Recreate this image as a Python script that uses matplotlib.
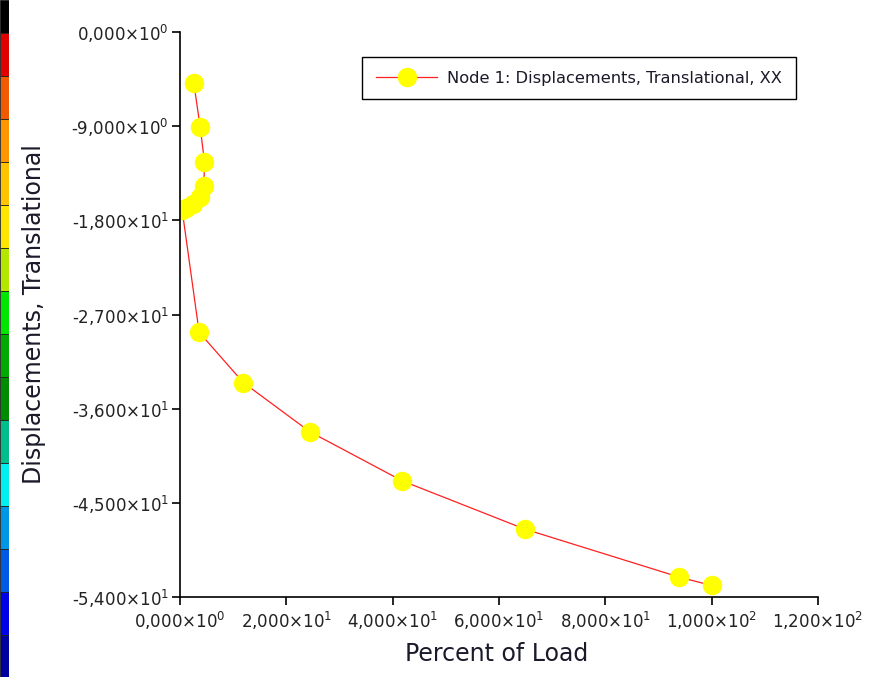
import numpy as np
import matplotlib
matplotlib.use("Agg")
import matplotlib.pyplot as plt
from matplotlib.ticker import FuncFormatter

# 曲线数据 (Percent of Load, Displacement XX)
percent_load = [2.6, 3.8, 4.6, 4.5, 3.7, 2.5, 1.2, 0.4, 3.6, 11.9, 24.4, 41.8, 64.8, 93.9, 100.0]
displacement = [-4.9, -9.1, -12.4, -14.7, -15.8, -16.4, -16.8, -17.0, -28.7, -33.5, -38.2, -42.9, -47.5, -52.1, -52.9]

x_ticks = [0, 20, 40, 60, 80, 100, 120]
y_ticks = [0, -9, -18, -27, -36, -45, -54]

legend_label = "Node 1: Displacements, Translational, XX"
x_label = "Percent of Load"
y_label = "Displacements, Translational"

# 左侧色带（截图残留部分）
strip_colors = ["#000000", "#e10000", "#f05a00", "#ff9600", "#ffc300", "#ffe600",
                "#b4e600", "#00e600", "#00aa00", "#008c00", "#00be8c", "#00f0f0",
                "#0096e6", "#005ae6", "#0000e6", "#0000a0"]


def sci_fmt(v, pos=None):
    # 0,000×10⁰ 样式
    if v == 0:
        return r"0,000$\times$10$^{0}$"
    e = int(np.floor(np.log10(abs(v)) + 1e-9))
    m = v / 10 ** e
    return f"{m:.3f}".replace(".", ",").replace("-", "\u2010") + r"$\times$10$^{" + str(e) + "}$"


fig = plt.figure(figsize=(8.74, 6.83), dpi=100)
plt.rcParams['font.family'] = ['DejaVu Sans']
plt.rcParams['mathtext.fontset'] = 'dejavusans'

# 色带
ax_cb = fig.add_axes([0, 6 / 683, 9 / 874, 677 / 683])
edges = [0, 33] + [33 + 43 * (k + 1) for k in range(15)]
for i, c in enumerate(strip_colors):
    ax_cb.bar(0.5, edges[i + 1] - edges[i], bottom=edges[i], width=1.0,
              color=c, edgecolor="#202020", linewidth=0.6)
ax_cb.set_xlim(0, 1)
ax_cb.set_ylim(677, 0)
ax_cb.axis("off")

# 主图
ax = fig.add_axes([180 / 874, 86 / 683, 638 / 874, 565 / 683])
ax.plot(percent_load, displacement, color="#ff2020", linewidth=0.9,
        marker="o", markersize=13, markerfacecolor="#ffff00",
        markeredgecolor="#ffff00", label=legend_label)

ax.set_xlim(0, 120)
ax.set_ylim(-54, 0)
ax.set_xticks(x_ticks)
ax.set_yticks(y_ticks)
ax.xaxis.set_major_formatter(FuncFormatter(sci_fmt))
ax.yaxis.set_major_formatter(FuncFormatter(sci_fmt))

for s in ["top", "right"]:
    ax.spines[s].set_visible(False)
for s in ["left", "bottom"]:
    ax.spines[s].set_linewidth(1.2)
    ax.spines[s].set_color("black")

ax.tick_params(axis="both", direction="out", length=6, width=1.2,
               labelsize=12, labelcolor="#222222")
ax.tick_params(axis="y", pad=2)
ax.tick_params(axis="x", pad=3)

ax.set_xlabel(x_label, fontsize=17, color="#1a1a2a")
ax.set_ylabel(y_label, fontsize=17, color="#1a1a2a")
ax.xaxis.set_label_coords(0.497, -0.079)
ax.yaxis.set_label_coords(-0.21, 0.5)

leg = ax.legend(loc="upper left", bbox_to_anchor=(0.285, 0.956), fontsize=11.7,
                frameon=True, fancybox=False, framealpha=1, handlelength=3.8,
                borderpad=0.85, borderaxespad=0, handletextpad=0.6)
leg.get_frame().set_edgecolor("black")
leg.get_frame().set_linewidth(1.0)
for t in leg.get_texts():
    t.set_color("#1a1a2a")

plt.savefig("out.png", dpi=100)
plt.close()
